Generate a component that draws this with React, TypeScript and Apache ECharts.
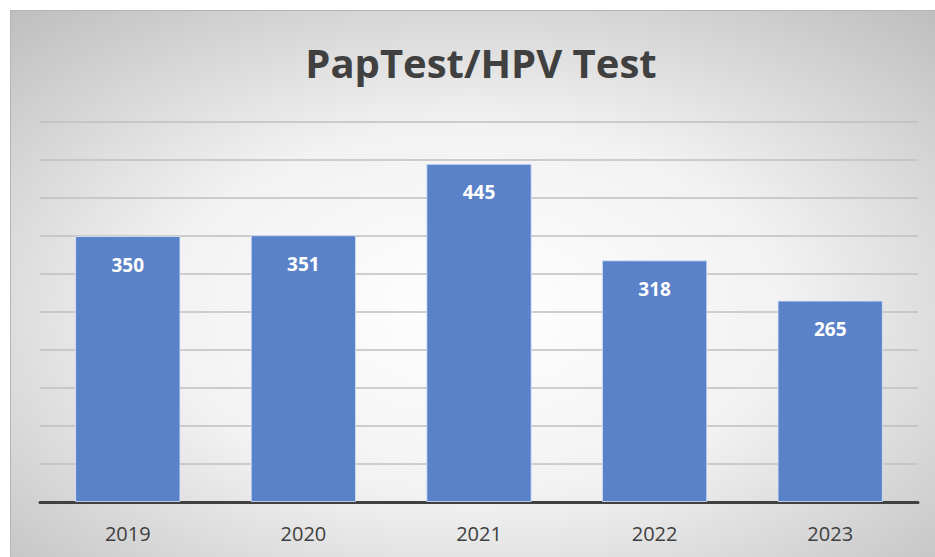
import React, { useEffect, useRef } from "react";
import * as echarts from "echarts";

const title = "PapTest/HPV Test";
const years = ["2019", "2020", "2021", "2022", "2023"];
const counts = [350, 351, 445, 318, 265];
const yMin = 0;
const yMax = 500;
const yInterval = 50;

export default function App() {
  const ref = useRef<HTMLDivElement>(null);
  useEffect(() => {
    if (!ref.current) return;
    const chart = echarts.init(ref.current, undefined, { renderer: "svg" });
    chart.setOption({
      animation: false,
      backgroundColor: {
        type: "radial",
        x: 0.5,
        y: 0.55,
        r: 0.75,
        colorStops: [
          { offset: 0, color: "#ffffff" },
          { offset: 0.45, color: "#f2f2f2" },
          { offset: 1, color: "#bdbdbd" },
        ],
      },
      title: {
        text: title,
        left: 465,
        top: 26,
        textAlign: "center",
        textStyle: {
          fontFamily: "Open Sans",
          fontWeight: "bold",
          fontSize: 40,
          color: "#404040",
        },
      },
      grid: { left: 29, right: 17, top: 111, bottom: 55 },
      xAxis: {
        type: "category",
        data: years,
        axisTick: { show: false },
        axisLine: { lineStyle: { color: "#404040", width: 3 } },
        axisLabel: {
          fontFamily: "Open Sans",
          fontSize: 20,
          color: "#404040",
          margin: 21,
        },
      },
      yAxis: {
        type: "value",
        min: yMin,
        max: yMax,
        interval: yInterval,
        axisLabel: { show: false },
        axisLine: { show: false },
        axisTick: { show: false },
        splitLine: { lineStyle: { color: "#bfbfbf", width: 1.5 } },
      },
      series: [
        {
          type: "bar",
          data: counts,
          barWidth: "60%",
          itemStyle: {
            color: "#5a82c8",
            borderColor: "rgba(220,230,250,0.8)",
            borderWidth: 1,
          },
          label: {
            show: true,
            position: "insideTop",
            distance: 19,
            color: "#ffffff",
            fontFamily: "Open Sans",
            fontWeight: "bold",
            fontSize: 19,
          },
        },
      ],
    });
    return () => chart.dispose();
  }, []);
  return (
    <div
      ref={ref}
      style={{
        position: "absolute",
        left: 10,
        top: 10,
        width: 925,
        height: 547,
        borderTop: "1px solid #b5b5b5",
        borderLeft: "1px solid #b5b5b5",
        boxSizing: "border-box",
      }}
    />
  );
}
